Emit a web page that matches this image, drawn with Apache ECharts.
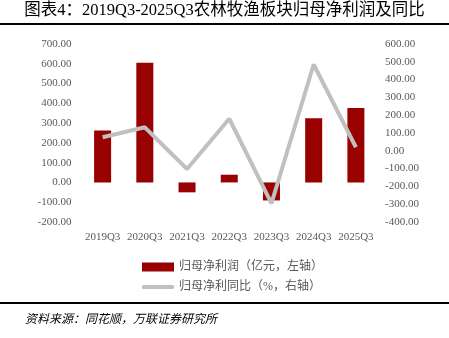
<!DOCTYPE html>
<html><head><meta charset="utf-8">
<script src="https://cdn.jsdelivr.net/npm/echarts@6/dist/echarts.min.js"></script>
<style>html,body{margin:0;padding:0;background:#fff}#c{width:449px;height:338px}</style>
</head><body><div id="c"></div>
<script>
const categories = ['2019Q3','2020Q3','2021Q3','2022Q3','2023Q3','2024Q3','2025Q3'];
const profit = [263, 605, -50, 39, -91, 325, 376];
const yoy = [76, 132, -102, 180, -295, 485, 20];
const leftTicks = {min: -200, max: 700, interval: 100};
const rightTicks = {min: -400, max: 600, interval: 100};

const numFont = '"Liberation Serif","Noto Sans CJK SC",serif';
const cjkFont = '"Liberation Serif","Noto Sans CJK SC",serif';
const chart = echarts.init(document.getElementById('c'));
chart.setOption({
  animation: false,
  title: {
    text: '图表4：2019Q3-2025Q3农林牧渔板块归母净利润及同比',
    left: 'center', top: 2, padding: 0,
    textStyle: {fontFamily: cjkFont, fontSize: 16.5, fontWeight: 'normal', color: '#000'}
  },
  graphic: [
    {type: 'rect', shape: {x: 0, y: 23, width: 449, height: 2}, style: {fill: '#000'}},
    {type: 'rect', shape: {x: 0, y: 302, width: 449, height: 2}, style: {fill: '#000'}},
    {type: 'text', x: 25, y: 312, style: {text: '资料来源：同花顺，万联证券研究所', font: 'italic 12px "Noto Sans CJK SC"', fill: '#000'}}
  ],
  grid: {left: 81.5, right: 72, top: 44, bottom: 116},
  legend: [
    {left: 137, top: 256, itemWidth: 32, itemHeight: 9,
     textStyle: {fontFamily: cjkFont, fontSize: 12, color: '#595959'},
     data: [{name: '归母净利润（亿元，左轴）', icon: 'rect'}]},
    {left: 137, top: 276, itemWidth: 32, itemHeight: 4,
     textStyle: {fontFamily: cjkFont, fontSize: 12, color: '#595959'},
     data: [{name: '归母净利同比（%，右轴）', icon: 'roundRect'}]}
  ],
  xAxis: {
    type: 'category', data: categories,
    axisLine: {show: false}, axisTick: {show: false},
    axisLabel: {interval: 0, fontFamily: numFont, fontSize: 11, color: '#595959', margin: 10}
  },
  yAxis: [
    {type: 'value', min: leftTicks.min, max: leftTicks.max, interval: leftTicks.interval,
     splitLine: {show: false}, axisLine: {show: false}, axisTick: {show: false},
     axisLabel: {fontFamily: numFont, fontSize: 11, color: '#595959', margin: 10, formatter: v => v.toFixed(2)}},
    {type: 'value', min: rightTicks.min, max: rightTicks.max, interval: rightTicks.interval,
     splitLine: {show: false}, axisLine: {show: false}, axisTick: {show: false},
     axisLabel: {fontFamily: numFont, fontSize: 11, color: '#595959', margin: 8, formatter: v => v.toFixed(2)}}
  ],
  series: [
    {name: '归母净利润（亿元，左轴）', type: 'bar', data: profit, yAxisIndex: 0, barWidth: 17,
     itemStyle: {color: '#990000'}},
    {name: '归母净利同比（%，右轴）', type: 'line', data: yoy, yAxisIndex: 1, symbol: 'none',
     lineStyle: {color: '#c0c0c0', width: 4}, itemStyle: {color: '#c0c0c0'}}
  ]
});
</script></body></html>
